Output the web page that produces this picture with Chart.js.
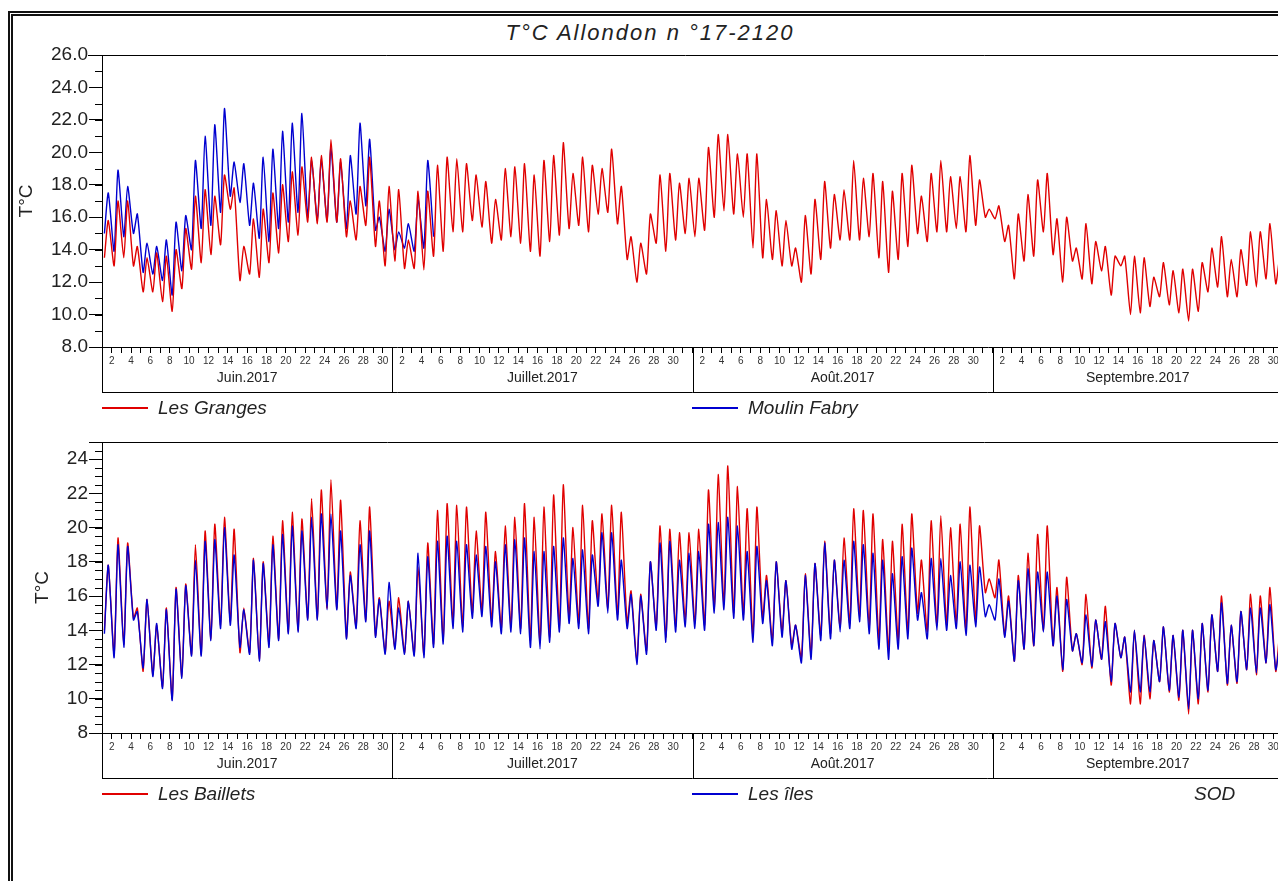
<!DOCTYPE html>
<html>
<head>
<meta charset="utf-8">
<script src="https://cdn.jsdelivr.net/npm/chart.js@4.4.0/dist/chart.umd.min.js"></script>
<style>
  html, body { margin: 0; padding: 0; background: #fff; overflow: hidden; width: 1278px; height: 881px; }
  body { font-family: "Liberation Sans", Arial, sans-serif; color: #222; position: relative; }
  .frame { position: absolute; left: 8px; top: 11px; width: 1400px; height: 1000px;
           border-left: 5px double #111; border-top: 5px double #111; }
  canvas { position: absolute; left: 0; }
  #topChart { top: 0; }
  #botChart { top: 400px; }
  .title { position: absolute; left: 0; top: 20px; width: 1300px; text-align: center;
           font-style: italic; font-size: 22px; line-height: 26px; letter-spacing: 2px; }
  .leg { position: absolute; font-style: italic; font-size: 19px; line-height: 22px; }
  .leg i { position: absolute; left: -56px; top: 10px; width: 46px; height: 2px; }
</style>
</head>
<body>
<div class="frame"></div>
<div class="title">T°C Allondon n °17-2120</div>
<canvas id="topChart" width="1300" height="400"></canvas>
<canvas id="botChart" width="1300" height="400"></canvas>
<div class="leg" style="left:158px;top:397px"><i style="background:#e00000"></i>Les Granges</div>
<div class="leg" style="left:748px;top:397px"><i style="background:#0000d0"></i>Moulin Fabry</div>
<div class="leg" style="left:158px;top:783px"><i style="background:#e00000"></i>Les Baillets</div>
<div class="leg" style="left:748px;top:783px"><i style="background:#0000d0"></i>Les îles</div>
<div class="leg" style="left:1194px;top:783px">SOD</div>
<script>
// months on the date axis (June -> September 2017)
const monthNames = ['Juin.2017', 'Juillet.2017', 'Août.2017', 'Septembre.2017'];
const monthLengths = [30, 31, 31, 30];

const yTicksTop = [8, 10, 12, 14, 16, 18, 20, 22, 24, 26];
const yTicksBottom = [8, 10, 12, 14, 16, 18, 20, 22, 24];

// daily low / high, one value per day from 1 June
const grangesMin = [
  13.5, 13.0, 13.5, 13.0, 11.4, 11.4, 10.8, 10.2, 11.6, 12.8, 13.2, 13.7, 14.3, 16.5, 12.1,
  12.5, 12.3, 13.2, 13.8, 14.5, 14.9, 15.7, 15.6, 15.7, 15.7, 14.8, 14.6, 15.5, 14.2, 13.0,
  13.3, 12.85, 12.85, 12.75, 13.6, 13.9, 15.1, 15.1, 15.8, 15.4, 14.4, 14.6, 14.8, 14.4, 13.9, 13.6,
  14.5, 14.9, 15.3, 15.5, 15.1, 16.2, 16.3, 15.6, 13.4, 12.0, 12.5, 14.4, 13.9, 14.6, 15.0,
  14.8, 15.2, 16.0, 16.4, 16.2, 16.0, 14.1, 13.5, 13.4, 13.0, 13.0, 12.0, 12.5, 13.4, 14.1, 14.6,
  14.6, 14.6, 14.8, 13.5, 12.6, 13.4, 14.2, 15.0, 14.5, 15.1, 15.1, 15.3, 15.1, 15.5, 16.0,
  15.9, 14.5, 12.2, 13.3, 13.6, 15.1, 13.7, 12.0, 13.3, 12.2, 11.9, 12.7, 11.2, 13.0, 10.0,
  10.1, 10.5, 11.1, 10.6, 10.1, 9.6, 10.2, 11.4, 11.7, 11.1, 11.1, 11.8, 11.7, 12.2, 11.9
];
const grangesMax = [
  15.8, 17.0, 17.0, 14.2, 13.5, 13.8, 13.6, 14.0, 15.3, 17.3, 17.7, 17.3, 18.6, 17.8, 14.2,
  15.9, 16.5, 17.5, 18.0, 18.8, 19.1, 19.7, 19.8, 20.8, 19.6, 17.0, 17.9, 19.7, 17.0, 17.9,
  17.7, 14.6, 17.6, 17.6, 19.2, 19.7, 19.6, 19.3, 18.6, 18.2, 17.1, 19.0, 19.1, 19.3, 18.6, 19.5,
  19.8, 20.6, 18.7, 19.7, 19.2, 19.0, 20.2, 17.9, 14.8, 14.4, 16.2, 18.6, 18.7, 18.1, 18.4,
  18.4, 20.3, 21.1, 21.1, 19.9, 19.9, 19.9, 17.1, 16.4, 15.8, 14.1, 16.1, 17.1, 18.2, 17.4, 17.7,
  19.5, 18.4, 18.7, 18.2, 17.6, 18.7, 19.2, 17.3, 18.7, 19.5, 18.5, 18.5, 19.8, 18.3, 16.5,
  16.7, 15.5, 16.2, 17.4, 18.3, 18.7, 15.9, 16.0, 14.1, 15.6, 14.5, 14.2, 13.6, 13.6, 13.6,
  13.5, 12.3, 13.2, 12.7, 12.8, 12.8, 13.2, 14.1, 14.8, 13.4, 14.0, 15.1, 15.1, 15.6, 13.6
];
// Moulin Fabry only runs from 1 June to 5 July
const fabryMin = [
  15.0, 13.9, 14.8, 15.0, 12.6, 12.5, 12.1, 11.2, 12.7, 14.0, 15.3, 15.5, 16.3, 17.3, 16.9,
  15.5, 14.7, 14.5, 15.3, 15.7, 16.3, 16.0, 15.8, 15.8, 15.7, 15.3, 16.2, 16.7, 15.2, 13.9,
  14.0, 14.1, 13.9, 14.1, 14.8
];
const fabryMax = [
  17.5, 18.9, 17.9, 16.2, 14.4, 14.2, 14.6, 15.7, 16.1, 19.5, 21.0, 21.7, 22.7, 19.4, 19.3,
  18.1, 19.7, 20.2, 21.3, 21.8, 22.4, 19.5, 19.6, 20.3, 19.4, 19.8, 21.8, 20.8, 16.0, 16.5,
  15.1, 15.6, 17.1, 19.5, null
];
const bailletsMin = [
  14.0, 12.6, 13.2, 14.7, 11.6, 11.4, 10.7, 10.0, 11.3, 12.6, 12.6, 13.5, 14.3, 14.5, 12.7,
  12.7, 12.3, 13.2, 13.5, 13.9, 14.0, 14.7, 14.7, 15.3, 15.3, 13.6, 14.2, 14.6, 13.7, 12.7,
  13.0, 12.7, 12.6, 12.6, 13.2, 13.4, 14.4, 14.2, 15.0, 15.1, 14.5, 14.1, 14.2, 14.1, 13.4, 13.3,
  13.6, 14.2, 14.7, 14.4, 14.1, 15.7, 15.3, 14.9, 14.4, 12.2, 12.8, 14.2, 13.6, 14.2, 14.5,
  14.4, 14.3, 15.3, 15.5, 15.0, 14.9, 13.6, 14.7, 13.4, 13.9, 13.1, 12.4, 12.6, 13.7, 13.8, 14.2,
  14.4, 14.8, 14.2, 13.4, 12.8, 13.4, 13.9, 15.0, 13.9, 14.3, 14.3, 14.4, 14.0, 14.5, 16.2,
  15.9, 13.7, 12.2, 12.9, 13.1, 14.0, 13.1, 11.6, 12.8, 12.0, 11.8, 12.3, 10.8, 12.4, 9.7,
  9.7, 10.0, 11.0, 10.4, 9.9, 9.1, 9.7, 10.4, 11.6, 10.8, 10.9, 11.7, 11.4, 12.1, 11.6
];
const bailletsMax = [
  17.8, 19.4, 19.1, 15.3, 15.8, 14.3, 15.3, 16.5, 16.7, 19.0, 19.8, 20.2, 20.6, 19.9, 15.3,
  18.2, 18.0, 19.5, 20.4, 20.9, 20.5, 21.7, 22.2, 22.8, 21.6, 17.4, 20.4, 21.2, 15.9, 15.7,
  15.9, 15.7, 17.7, 19.1, 21.0, 21.4, 21.3, 21.2, 19.8, 20.9, 18.6, 20.1, 20.6, 21.4, 20.6, 21.2,
  21.9, 22.5, 20.0, 21.3, 20.4, 20.8, 21.3, 20.9, 16.3, 16.1, 18.0, 20.1, 19.9, 19.7, 19.7,
  19.9, 22.2, 23.1, 23.6, 22.4, 21.1, 21.2, 17.2, 18.0, 16.9, 14.3, 17.3, 17.9, 19.2, 18.1, 19.4,
  21.1, 21.0, 20.8, 19.3, 19.2, 20.2, 20.8, 18.1, 20.4, 20.7, 20.0, 20.2, 21.2, 20.1, 17.0,
  18.1, 16.0, 17.2, 18.5, 19.6, 20.1, 16.5, 17.1, 13.8, 16.1, 14.6, 15.4, 14.4, 13.6, 14.0,
  13.7, 13.4, 14.2, 13.7, 14.0, 14.0, 14.4, 14.9, 16.0, 14.3, 15.1, 16.1, 16.0, 16.5, 13.9
];
const ilesMin = [
  13.8, 12.4, 13.0, 14.6, 11.8, 11.3, 10.6, 9.9, 11.2, 12.5, 12.5, 13.4, 14.1, 14.3, 13.0,
  12.6, 12.2, 13.0, 13.4, 13.8, 13.9, 14.6, 14.6, 15.2, 15.2, 13.5, 14.1, 14.5, 13.6, 12.6,
  12.9, 12.6, 12.5, 12.4, 13.0, 13.2, 14.1, 13.9, 14.7, 14.8, 14.2, 13.8, 13.9, 13.8, 13.0, 12.9,
  13.3, 13.9, 14.4, 14.1, 13.8, 15.4, 15.0, 14.6, 14.1, 12.0, 12.6, 14.0, 13.3, 13.9, 14.2,
  14.1, 14.0, 15.0, 15.2, 14.7, 14.6, 13.3, 14.4, 13.1, 13.6, 12.9, 12.1, 12.3, 13.4, 13.5, 13.9,
  14.1, 14.5, 13.8, 12.9, 12.3, 12.9, 13.5, 14.6, 13.5, 14.0, 14.0, 14.1, 13.7, 14.2, 14.8,
  14.6, 13.6, 12.2, 12.9, 13.1, 13.9, 13.1, 11.7, 12.8, 12.1, 11.9, 12.3, 11.0, 12.4, 10.4,
  10.4, 10.4, 11.0, 10.5, 10.1, 9.4, 10.0, 10.5, 11.6, 10.9, 11.0, 11.7, 11.5, 12.1, 11.7
];
const ilesMax = [
  17.8, 19.0, 18.9, 15.1, 15.8, 14.4, 15.2, 16.4, 16.6, 18.1, 19.2, 19.3, 20.0, 18.4, 15.2,
  18.1, 17.9, 19.0, 19.6, 20.1, 19.8, 20.6, 20.8, 20.8, 19.8, 17.2, 19.0, 19.8, 15.8, 16.8,
  15.3, 15.7, 18.5, 18.3, 19.2, 19.5, 19.2, 19.0, 18.4, 18.9, 18.0, 19.0, 19.3, 19.4, 18.6, 18.6,
  18.9, 19.4, 18.2, 18.7, 18.4, 19.7, 19.7, 18.1, 16.1, 16.0, 18.0, 19.1, 19.2, 18.1, 18.5,
  18.6, 20.2, 20.3, 20.6, 20.1, 18.6, 18.9, 16.9, 18.0, 16.9, 14.3, 17.2, 17.9, 19.1, 18.1, 18.1,
  19.2, 19.0, 18.5, 18.1, 17.3, 18.3, 18.8, 16.2, 18.2, 18.2, 17.2, 18.0, 17.8, 17.7, 15.5,
  17.0, 15.7, 16.9, 17.6, 17.4, 17.4, 16.0, 15.8, 13.8, 14.9, 14.6, 14.5, 14.4, 13.6, 14.0,
  13.7, 13.4, 14.2, 13.7, 14.0, 14.0, 14.4, 14.9, 15.6, 14.3, 15.1, 15.3, 15.3, 15.5, 13.2
];

const RED = '#e00000';
const BLUE = '#0000d0';
const totalDays = monthLengths.reduce((a, b) => a + b, 0);

Chart.defaults.font.family = '"Liberation Sans", Arial, sans-serif';
Chart.defaults.color = '#222';

// morning low then afternoon high for every day
function toPoints(lows, highs) {
  const pts = [];
  lows.forEach((lo, i) => {
    pts.push({ x: i + 0.25, y: lo });
    pts.push({ x: i + 0.65, y: highs[i] });
  });
  return pts;
}

function dayLabel(v) {
  let start = 0;
  for (const len of monthLengths) {
    if (v < start + len) {
      const dom = v - start + 1;
      return dom % 2 === 0 ? String(dom) : '';
    }
    start += len;
  }
  return '';
}

// plot frame, minor y ticks and the month box under the day ticks
const panelFrame = {
  id: 'panelFrame',
  afterDraw(chart, args, opts) {
    const { ctx, chartArea: a, scales: { x, y } } = chart;
    const boxBottom = a.bottom + 45;
    ctx.save();
    ctx.strokeStyle = '#000';
    ctx.lineWidth = 1;
    ctx.beginPath();
    ctx.moveTo(a.left - opts.topTick, a.top + 0.5);
    ctx.lineTo(a.right, a.top + 0.5);
    for (let v = y.min; v <= y.max + 1e-6; v += opts.minorStep) {
      const py = Math.round(y.getPixelForValue(v)) + 0.5;
      ctx.moveTo(a.left - 7, py);
      ctx.lineTo(a.left, py);
    }
    ctx.moveTo(a.left + 0.5, a.bottom);
    ctx.lineTo(a.left + 0.5, boxBottom);
    ctx.moveTo(a.left, boxBottom + 0.5);
    ctx.lineTo(a.right, boxBottom + 0.5);
    let start = 0;
    monthLengths.forEach(len => {
      start += len;
      const px = Math.round(x.getPixelForValue(start)) + 0.5;
      ctx.moveTo(px, a.bottom);
      ctx.lineTo(px, boxBottom);
    });
    ctx.stroke();

    ctx.fillStyle = '#222';
    ctx.font = '14px "Liberation Sans", Arial, sans-serif';
    ctx.textAlign = 'center';
    ctx.textBaseline = 'middle';
    start = 0;
    monthLengths.forEach((len, i) => {
      ctx.fillText(monthNames[i], x.getPixelForValue(start + len / 2), a.bottom + 31);
      start += len;
    });
    ctx.restore();
  }
};

function makePanel(canvasId, cfg) {
  return new Chart(document.getElementById(canvasId), {
    type: 'line',
    data: { datasets: cfg.datasets },
    options: {
      responsive: false,
      animation: false,
      devicePixelRatio: 1,
      layout: { padding: { top: cfg.padTop, right: 17, bottom: cfg.padBottom, left: 0 } },
      elements: { point: { radius: 0 }, line: { borderWidth: 1.4, tension: 0.2 } },
      plugins: {
        legend: { display: false },
        tooltip: { enabled: false },
        panelFrame: { topTick: cfg.topTick, minorStep: cfg.minorStep }
      },
      scales: {
        x: {
          type: 'linear',
          min: 0,
          max: totalDays,
          afterBuildTicks: s => { s.ticks = Array.from({ length: totalDays + 1 }, (_, i) => ({ value: i })); },
          afterFit: s => { s.height = 45; },
          ticks: {
            autoSkip: false, maxRotation: 0, minRotation: 0, padding: 2,
            font: { size: 10 }, color: '#333',
            callback: v => dayLabel(v)
          },
          grid: { drawOnChartArea: false, tickLength: 6, color: '#000' },
          border: { color: '#000' }
        },
        y: {
          min: cfg.yMin,
          max: cfg.yMax,
          afterBuildTicks: s => { s.ticks = cfg.yTicks.map(v => ({ value: v })); },
          afterFit: s => { s.width = 102; },
          ticks: { font: { size: 19 }, color: '#222', padding: 1, callback: cfg.yFormat },
          grid: { drawOnChartArea: false, tickLength: 13, color: '#000' },
          border: { color: '#000' },
          title: {
            display: true, text: 'T°C', color: '#222',
            font: { size: 19 }, padding: { top: cfg.titlePad, bottom: 0 }
          }
        }
      }
    },
    plugins: [panelFrame]
  });
}

makePanel('topChart', {
  padTop: 55, padBottom: 8, yMin: 8, yMax: 26, yTicks: yTicksTop,
  yFormat: v => v.toFixed(1), minorStep: 1, topTick: 14, titlePad: 15,
  datasets: [
    { label: 'Les Granges', data: toPoints(grangesMin, grangesMax), borderColor: RED, order: 1 },
    { label: 'Moulin Fabry', data: toPoints(fabryMin, fabryMax), borderColor: BLUE, order: 2 }
  ]
});

makePanel('botChart', {
  padTop: 42, padBottom: 22, yMin: 8, yMax: 25, yTicks: yTicksBottom,
  yFormat: v => String(v), minorStep: 0.5, topTick: 13, titlePad: 31,
  datasets: [
    { label: 'Les Baillets', data: toPoints(bailletsMin, bailletsMax), borderColor: RED, order: 2 },
    { label: 'Les îles', data: toPoints(ilesMin, ilesMax), borderColor: BLUE, order: 1 }
  ]
});
</script>
</body>
</html>
